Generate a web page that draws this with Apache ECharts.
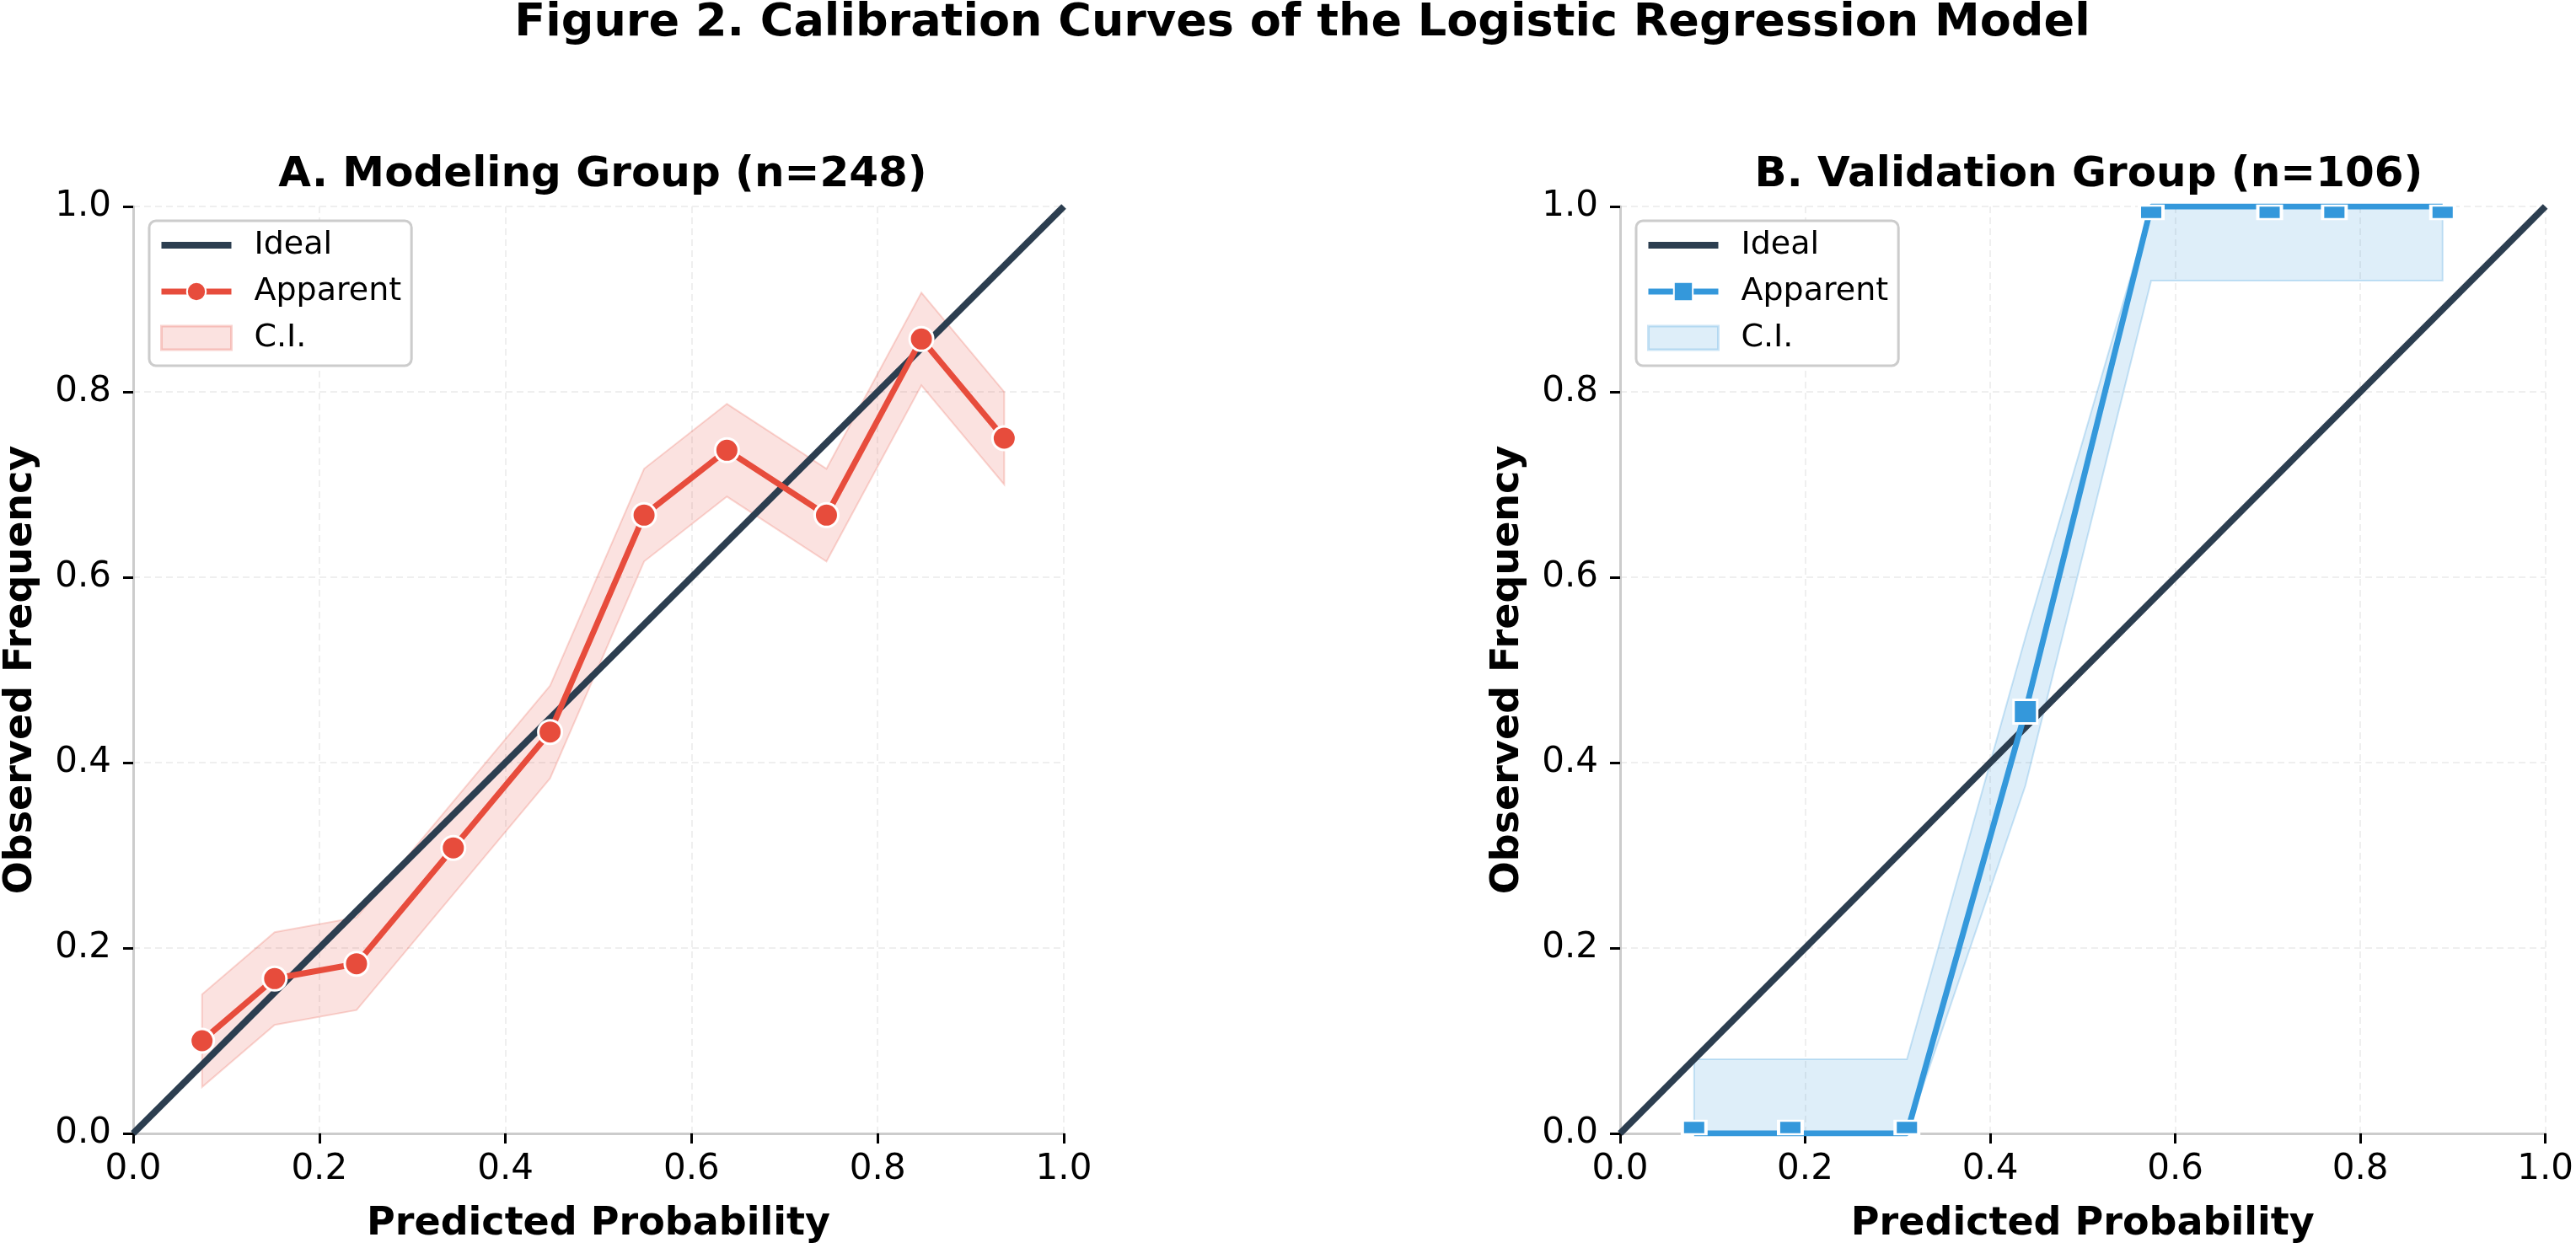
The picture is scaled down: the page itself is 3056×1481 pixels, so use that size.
<!DOCTYPE html>
<html lang="en">
<head>
    <meta charset="UTF-8">
    <title>Calibration Curves</title>
    <script src="https://cdn.jsdelivr.net/npm/echarts@6/dist/echarts.min.js"></script>
    <style>
        html, body { margin: 0; padding: 0; background: #fff; }
        #main { width: 3056px; height: 1481px; }
    </style>
</head>
<body>
<div id="main"></div>
<script type="text/javascript">
    // values
    var modelX     = [0.074, 0.152, 0.240, 0.344, 0.448, 0.549, 0.638, 0.745, 0.847, 0.936];
    var modelObs   = [0.100, 0.167, 0.183, 0.308, 0.433, 0.667, 0.737, 0.667, 0.857, 0.750];
    var modelLower = [0.050, 0.117, 0.133, 0.258, 0.383, 0.617, 0.687, 0.617, 0.807, 0.700];
    var modelUpper = [0.150, 0.217, 0.233, 0.358, 0.483, 0.717, 0.787, 0.717, 0.907, 0.800];

    var validX     = [0.080, 0.184, 0.310, 0.438, 0.574, 0.702, 0.772, 0.889];
    var validObs   = [0.000, 0.000, 0.000, 0.455, 1.000, 1.000, 1.000, 1.000];
    var validLower = [0.000, 0.000, 0.000, 0.375, 0.920, 0.920, 0.920, 0.920];
    var validUpper = [0.080, 0.080, 0.080, 0.535, 1.000, 1.000, 1.000, 1.000];

    var idealX = [0, 1];
    var idealY = [0, 1];

    var FONT = 'DejaVu Sans';
    var NAVY = '#2c3e50';
    var RED = '#e74c3c';
    var BLUE = '#3498db';

    function pairs(xs, ys) {
        return xs.map(function (x, i) { return [x, ys[i]]; });
    }

    function makeAxis(idx, isX) {
        return {
            type: 'value',
            gridIndex: idx,
            min: 0,
            max: 1,
            interval: 0.2,
            name: isX ? 'Predicted Probability' : 'Observed Frequency',
            nameLocation: 'middle',
            nameGap: isX ? 85 : 110,
            nameTextStyle: { fontFamily: FONT, fontSize: 46, fontWeight: 'bold', color: '#000' },
            axisLine: { show: true, lineStyle: { color: '#cccccc', width: 3 } },
            axisTick: { show: true, length: 12, lineStyle: { color: '#000', width: 3 } },
            axisLabel: {
                fontFamily: FONT, fontSize: 42, color: '#000',
                margin: isX ? 22 : 26,
                formatter: function (v) { return v.toFixed(1); }
            },
            splitLine: { show: true, lineStyle: { color: '#efefef', width: 2, type: [8, 5] } }
        };
    }

    // suffix keeps the two panels' legends apart; the formatter hides it
    function makeLegend(left, sfx, color, lightFill, lightEdge) {
        return {
            orient: 'vertical',
            left: left,
            top: 262,
            itemWidth: 83,
            itemHeight: 28,
            itemGap: 17,
            padding: [10, 12, 14, 11],
            backgroundColor: '#fff',
            borderColor: '#cccccc',
            borderWidth: 3,
            borderRadius: 8,
            selectedMode: false,
            formatter: function (name) { return name.replace(sfx, ''); },
            textStyle: { fontFamily: FONT, fontSize: 38, color: '#000', padding: [0, 0, 0, 22] },
            data: [
                { name: 'Ideal' + sfx, icon: 'path://M0 0H83V8H0Z', itemStyle: { color: NAVY } },
                { name: 'Apparent' + sfx, lineStyle: { color: color, width: 7 } },
                { name: 'C.I.' + sfx, icon: 'rect', itemStyle: { color: lightFill, borderColor: lightEdge, borderWidth: 3 } }
            ]
        };
    }

    // markers sitting on the plot edge are half cut off, as in the figure
    function edgeMarkers(xs, ys) {
        return xs.map(function (x, i) {
            var item = { value: [x, ys[i]] };
            if (ys[i] >= 1) {
                item.symbolSize = [28, 16];
                item.symbolOffset = [0, 7];
            } else if (ys[i] <= 0) {
                item.symbolSize = [28, 16];
                item.symbolOffset = [0, -7];
            }
            return item;
        });
    }

    // confidence band as one polygon through the axis scales
    function bandSeries(idx, name, xs, lo, hi, edge, fill) {
        var rows = xs.map(function (x, i) { return [x, lo[i], hi[i]]; });
        return {
            name: name,
            type: 'custom',
            xAxisIndex: idx, yAxisIndex: idx,
            data: rows,
            encode: { x: 0, y: [1, 2] },
            silent: true,
            z: 1,
            renderItem: function (params, api) {
                if (params.dataIndex !== 0) return null;
                var pts = [];
                var i;
                for (i = 0; i < rows.length; i++) pts.push(api.coord([rows[i][0], rows[i][2]]));
                for (i = rows.length - 1; i >= 0; i--) pts.push(api.coord([rows[i][0], rows[i][1]]));
                return {
                    type: 'polygon',
                    shape: { points: pts },
                    style: { fill: fill, stroke: edge, lineWidth: 2 }
                };
            }
        };
    }

    var myChart = echarts.init(document.getElementById('main'), null, { renderer: 'canvas' });

    var series = [];
    series.push(bandSeries(0, 'C.I._A', modelX, modelLower, modelUpper, 'rgba(231,76,60,0.22)', 'rgba(231,76,60,0.16)'));
    series.push(bandSeries(1, 'C.I._B', validX, validLower, validUpper, 'rgba(52,152,219,0.25)', 'rgba(52,152,219,0.16)'));

    series.push({
        name: 'Ideal_A', type: 'line', xAxisIndex: 0, yAxisIndex: 0,
        data: pairs(idealX, idealY), symbol: 'none',
        lineStyle: { color: NAVY, width: 8 }, itemStyle: { color: NAVY }, z: 3
    });
    series.push({
        name: 'Ideal_B', type: 'line', xAxisIndex: 1, yAxisIndex: 1,
        data: pairs(idealX, idealY), symbol: 'none',
        lineStyle: { color: NAVY, width: 8 }, itemStyle: { color: NAVY }, z: 3
    });
    series.push({
        name: 'Apparent_A', type: 'line', xAxisIndex: 0, yAxisIndex: 0,
        data: pairs(modelX, modelObs),
        symbol: 'circle', symbolSize: 28,
        lineStyle: { color: RED, width: 7 },
        itemStyle: { color: RED, borderColor: '#fff', borderWidth: 3 },
        z: 4
    });
    series.push({
        name: 'Apparent_B', type: 'line', xAxisIndex: 1, yAxisIndex: 1,
        data: edgeMarkers(validX, validObs),
        symbol: 'rect', symbolSize: 28,
        lineStyle: { color: BLUE, width: 7 },
        itemStyle: { color: BLUE, borderColor: '#fff', borderWidth: 3 },
        z: 4
    });

    var option = {
        animation: false,
        backgroundColor: '#fff',
        title: [
            { text: 'Figure 2. Calibration Curves of the Logistic Regression Model', left: 1540, textAlign: 'center', top: -4,
              textStyle: { fontFamily: FONT, fontSize: 54, fontWeight: 'bold', color: '#000' } },
            { text: 'A. Modeling Group (n=248)', left: 710, textAlign: 'center', top: 178,
              textStyle: { fontFamily: FONT, fontSize: 50, fontWeight: 'bold', color: '#000' } },
            { text: 'B. Validation Group (n=106)', left: 2473, textAlign: 'center', top: 178,
              textStyle: { fontFamily: FONT, fontSize: 50, fontWeight: 'bold', color: '#000' } }
        ],
        legend: [
            makeLegend(177, '_A', RED, 'rgba(231,76,60,0.16)', 'rgba(231,76,60,0.25)'),
            makeLegend(1941, '_B', BLUE, 'rgba(52,152,219,0.16)', 'rgba(52,152,219,0.25)')
        ],
        grid: [
            { left: 158, top: 245, width: 1104, height: 1102 },
            { left: 1922, top: 245, width: 1102, height: 1102 }
        ],
        xAxis: [makeAxis(0, true), makeAxis(1, true)],
        yAxis: [makeAxis(0, false), makeAxis(1, false)],
        series: series
    };

    myChart.setOption(option);
</script>
</body>
</html>
